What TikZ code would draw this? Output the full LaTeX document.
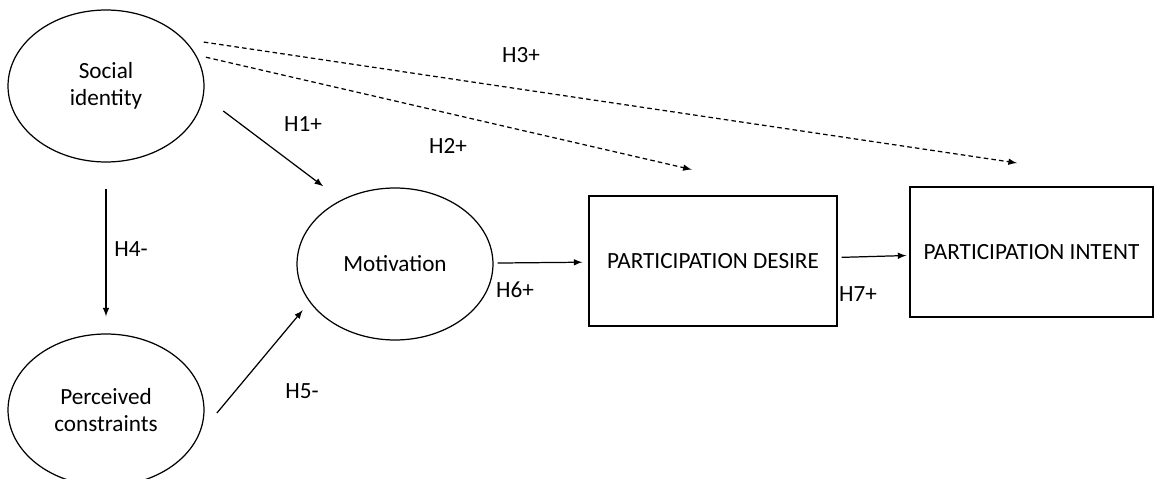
\documentclass[tikz,border=0pt]{standalone}
\usepackage{fontspec}
\setmainfont{Carlito}
\usetikzlibrary{shapes.geometric}

\begin{document}
\begin{tikzpicture}[>=latex, x=0.02cm, y=-0.02cm, line width=0.7pt,
    every node/.style={font=\fontsize{13.2}{15.5}\selectfont},
    construct/.style={draw, ellipse, minimum width=3.92cm, minimum height=3.04cm, inner sep=0pt, align=center},
    outcome/.style={draw, rectangle, minimum height=2.6cm, inner sep=0pt, align=center},
    hyp/.style={inner sep=0pt},
    hdash/.style={dash pattern=on 2.6pt off 1.8pt}]
\useasboundingbox (0,0) rectangle (1156,479);

\node[construct] (si) at (106,86) {Social\\identity};
\node[construct] (pc) at (106,410) {Perceived\\constraints};
\node[construct] (mot) at (395,264) {Motivation};
\node[outcome, minimum width=4.96cm] (d1) at (713,261) {PARTICIPATION DESIRE};
\node[outcome, minimum width=4.86cm] (i2) at (1031.5,252) {PARTICIPATION INTENT};
\coordinate (h3tip) at (1017,163);

% direct paths
\draw[->, shorten <=0.49cm, shorten >=0.45cm] (si.-6.5) -- (mot.130.6);
\draw[->, shorten <=0.52cm, shorten >=0.34cm] (si) -- (pc);
\draw[->, shorten <=0.53cm, shorten >=0.21cm] (pc.-14.1) -- (mot.-156.8);
\draw[->, shorten <=0.08cm, shorten >=0.12cm] (mot) -- (d1);
\draw[->, shorten <=0.08cm, shorten >=0.06cm] (d1) -- (i2);

% indirect paths
\draw[->, hdash, shorten <=0.2cm, shorten >=2.29cm] (si.19.3) -- (d1.36.3);
\draw[->, hdash, shorten <=0.4cm] (si.31.4) -- (h3tip);

\node[hyp] (h1) at (303,124) {H1+};
\node[hyp] (h2) at (448,146) {H2+};
\node[hyp] (h3) at (521,55) {H3+};
\node[hyp] (h4) at (131,249) {H4-};
\node[hyp] (h5) at (302,391) {H5-};
\node[hyp] (h6) at (515,290) {H6+};
\node[hyp] (h7) at (858,294) {H7+};

\end{tikzpicture}
\end{document}
